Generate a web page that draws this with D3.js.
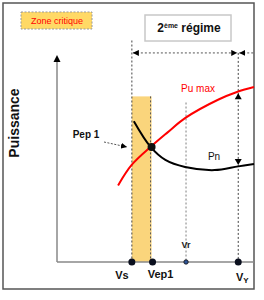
<!DOCTYPE html>
<html>
<head>
<meta charset="utf-8">
<script src="https://cdn.jsdelivr.net/npm/d3@7"></script>
<style>
  body { margin: 0; background: #fff; }
  text { font-family: "Liberation Sans", Arial, sans-serif; }
</style>
</head>
<body>
<script>
// speeds on the x axis (arbitrary units 0..100)
var speedNames = ["Vs", "Vep1", "Vr", "Vy"];
var speedValues = [38, 48, 65.5, 92];

// Pu max curve (red) and Pn curve (black), [speed, power]
var puMaxX = [31, 38, 48, 56, 65, 82, 91, 100];
var puMaxY = [37, 47, 56, 62.5, 69.5, 78.5, 82, 84.5];
var pnX = [39, 47.5, 55, 65, 80, 92, 100];
var pnY = [68, 55.6, 49.3, 45.9, 44.4, 46.2, 47.3];

// operating point Pep 1 and critical zone
var pep1 = [48, 55.6];
var zoneTop = 80;
var dimLevel = 101;     // level of the "2eme regime" dimension line
var vsLineTop = 107;
var vrLineTop = 77;
var vyArrows = [82, 46.4];  // Pu max and Pn at Vy

var w = 264;
var h = 300;

var x = d3.scaleLinear().domain([0, 100]).range([57, 254]);
var y = d3.scaleLinear().domain([0, 100]).range([262, 55]);

var svg = d3.select("body")
    .append("svg")
    .attr("width", w)
    .attr("height", h);

var defs = svg.append("defs");
defs.append("marker")
    .attr("id", "arr")
    .attr("viewBox", "0 0 10 10")
    .attr("refX", 10)
    .attr("refY", 5)
    .attr("markerWidth", 6)
    .attr("markerHeight", 6)
    .attr("markerUnits", "userSpaceOnUse")
    .attr("orient", "auto-start-reverse")
    .append("path")
    .attr("d", "M0,0L10,5L0,10Z")
    .attr("fill", "#000");

// outer frame
svg.append("rect")
    .attr("x", 3).attr("y", 3)
    .attr("width", 251).attr("height", 286)
    .attr("fill", "none")
    .attr("stroke", "#555")
    .attr("stroke-width", 1.5);

// critical zone band
svg.append("rect")
    .attr("x", x(speedValues[0]))
    .attr("y", y(zoneTop))
    .attr("width", x(speedValues[1]) - x(speedValues[0]))
    .attr("height", y(0) - y(zoneTop))
    .attr("fill", "#fad57c");

// legend box "Zone critique"
svg.append("rect")
    .attr("x", 21).attr("y", 12)
    .attr("width", 71).attr("height", 17)
    .attr("fill", "#ffd966")
    .attr("stroke", "#999")
    .attr("stroke-dasharray", "2,1.5");
svg.append("text")
    .attr("x", 57).attr("y", 24)
    .attr("text-anchor", "middle")
    .attr("font-size", 9)
    .attr("fill", "#ff0000")
    .text("Zone critique");

// "2eme regime" box
svg.append("rect")
    .attr("x", 145).attr("y", 15)
    .attr("width", 86).attr("height", 26)
    .attr("fill", "#fff")
    .attr("stroke", "#c8c8c8")
    .attr("stroke-width", 1.5);
var reg = svg.append("text")
    .attr("x", 189).attr("y", 32)
    .attr("text-anchor", "middle")
    .attr("font-size", 12)
    .attr("font-weight", "bold")
    .attr("fill", "#111");
reg.append("tspan").text("2");
reg.append("tspan").attr("font-size", 7).attr("dy", -4).text("ème");
reg.append("tspan").attr("dy", 4).text(" régime");

// vertical guide lines
svg.append("line")
    .attr("x1", x(speedValues[0])).attr("x2", x(speedValues[0]))
    .attr("y1", y(vsLineTop)).attr("y2", y(0))
    .attr("stroke", "#444").attr("stroke-width", 1)
    .attr("stroke-dasharray", "2,2");
svg.append("line")
    .attr("x1", x(speedValues[1]) - 1).attr("x2", x(speedValues[1]) - 1)
    .attr("y1", y(zoneTop)).attr("y2", y(0))
    .attr("stroke", "#555").attr("stroke-width", 1)
    .attr("stroke-dasharray", "2,2");
svg.append("line")
    .attr("x1", x(speedValues[2])).attr("x2", x(speedValues[2]))
    .attr("y1", y(vrLineTop)).attr("y2", y(0))
    .attr("stroke", "#aaa").attr("stroke-width", 1.5)
    .attr("stroke-dasharray", "2,2");
svg.append("line")
    .attr("x1", x(speedValues[3])).attr("x2", x(speedValues[3]))
    .attr("y1", y(dimLevel)).attr("y2", y(0))
    .attr("stroke", "#444").attr("stroke-width", 1)
    .attr("stroke-dasharray", "2,2");

// dimension line for the 2nd regime
svg.append("line")
    .attr("x1", x(speedValues[0]) + 1).attr("x2", x(speedValues[3]) - 1)
    .attr("y1", y(dimLevel)).attr("y2", y(dimLevel))
    .attr("stroke", "#555").attr("stroke-width", 1)
    .attr("stroke-dasharray", "2,2")
    .attr("marker-start", "url(#arr)")
    .attr("marker-end", "url(#arr)");
svg.append("line")
    .attr("x1", x(speedValues[3]) + 1).attr("x2", x(100))
    .attr("y1", y(dimLevel)).attr("y2", y(dimLevel))
    .attr("stroke", "#555").attr("stroke-width", 1)
    .attr("stroke-dasharray", "2,2")
    .attr("marker-start", "url(#arr)");

// arrowheads on the Vy line touching Pu max and Pn
svg.append("path")
    .attr("d", "M" + x(speedValues[3]) + "," + (y(vyArrows[0]) + 1) + "l-3.5,6h7z")
    .attr("fill", "#000");
svg.append("path")
    .attr("d", "M" + x(speedValues[3]) + "," + (y(vyArrows[1]) - 1) + "l-3.5,-6h7z")
    .attr("fill", "#000");

// axes
svg.append("line")
    .attr("x1", x(0)).attr("x2", x(0))
    .attr("y1", y(0)).attr("y2", y(100) + 4)
    .attr("stroke", "#888").attr("stroke-width", 1.5);
svg.append("path")
    .attr("d", "M" + x(0) + "," + y(100) + "l-3.5,7h7z")
    .attr("fill", "#000");
svg.append("line")
    .attr("x1", x(0)).attr("x2", x(100))
    .attr("y1", y(0)).attr("y2", y(0))
    .attr("stroke", "#888").attr("stroke-width", 1.5);

svg.append("text")
    .attr("transform", "translate(19,123) rotate(-90)")
    .attr("text-anchor", "middle")
    .attr("font-size", 14)
    .attr("font-weight", "bold")
    .attr("fill", "#111")
    .text("Puissance");

// curves
var line = d3.line()
    .x(function (d) { return x(d[0]); })
    .y(function (d) { return y(d[1]); })
    .curve(d3.curveCatmullRom);

svg.append("path")
    .datum(d3.zip(puMaxX, puMaxY))
    .attr("d", line)
    .attr("fill", "none")
    .attr("stroke", "#ff0000")
    .attr("stroke-width", 2);

svg.append("path")
    .datum(d3.zip(pnX, pnY))
    .attr("d", line)
    .attr("fill", "none")
    .attr("stroke", "#000")
    .attr("stroke-width", 2);

svg.append("circle")
    .attr("cx", x(pep1[0])).attr("cy", y(pep1[1]))
    .attr("r", 4)
    .attr("fill", "#111");

svg.append("text")
    .attr("x", 198).attr("y", 92)
    .attr("text-anchor", "middle")
    .attr("font-size", 10)
    .attr("fill", "#ff0000")
    .text("Pu max");
svg.append("text")
    .attr("x", 214).attr("y", 160)
    .attr("text-anchor", "middle")
    .attr("font-size", 10)
    .attr("fill", "#111")
    .text("Pn");

// Pep 1 label and dashed pointer
svg.append("text")
    .attr("x", 86).attr("y", 138)
    .attr("text-anchor", "middle")
    .attr("font-size", 10)
    .attr("font-weight", "bold")
    .attr("fill", "#111")
    .text("Pep 1");
svg.append("line")
    .attr("x1", 104).attr("y1", 142)
    .attr("x2", 127).attr("y2", 147)
    .attr("stroke", "#555").attr("stroke-width", 1)
    .attr("stroke-dasharray", "2,1.5")
    .attr("marker-end", "url(#arr)");

// dots on the x axis
svg.selectAll(".sp")
    .data(speedValues)
    .enter()
    .append("circle")
    .attr("class", "sp")
    .attr("cx", function (d, i) { return i == 1 ? x(d) + 1 : x(d); })
    .attr("cy", y(0))
    .attr("r", function (d, i) { return i == 2 ? 2.2 : 3.5; })
    .attr("fill", function (d, i) { return i == 2 ? "#2f5597" : "#0a0f1e"; })
    .attr("stroke", function (d, i) { return i == 2 ? "#111" : "none"; })
    .attr("stroke-width", 0.8);

// speed labels
svg.append("text")
    .attr("x", x(speedValues[0]) - 10).attr("y", 279)
    .attr("text-anchor", "middle")
    .attr("font-size", 11).attr("font-weight", "bold").attr("fill", "#111")
    .text(speedNames[0]);
svg.append("text")
    .attr("x", x(speedValues[1]) + 9).attr("y", 278)
    .attr("text-anchor", "middle")
    .attr("font-size", 11).attr("font-weight", "bold").attr("fill", "#111")
    .text(speedNames[1]);
svg.append("text")
    .attr("x", x(speedValues[2])).attr("y", 248)
    .attr("text-anchor", "middle")
    .attr("font-size", 9).attr("font-weight", "bold").attr("fill", "#222")
    .text(speedNames[2]);
var vy = svg.append("text")
    .attr("x", x(speedValues[3]) + 4).attr("y", 281)
    .attr("text-anchor", "middle")
    .attr("font-size", 11).attr("font-weight", "bold").attr("fill", "#111");
vy.append("tspan").text("V");
vy.append("tspan").attr("font-size", 8).attr("dy", 2).text("Y");
</script>
</body>
</html>
